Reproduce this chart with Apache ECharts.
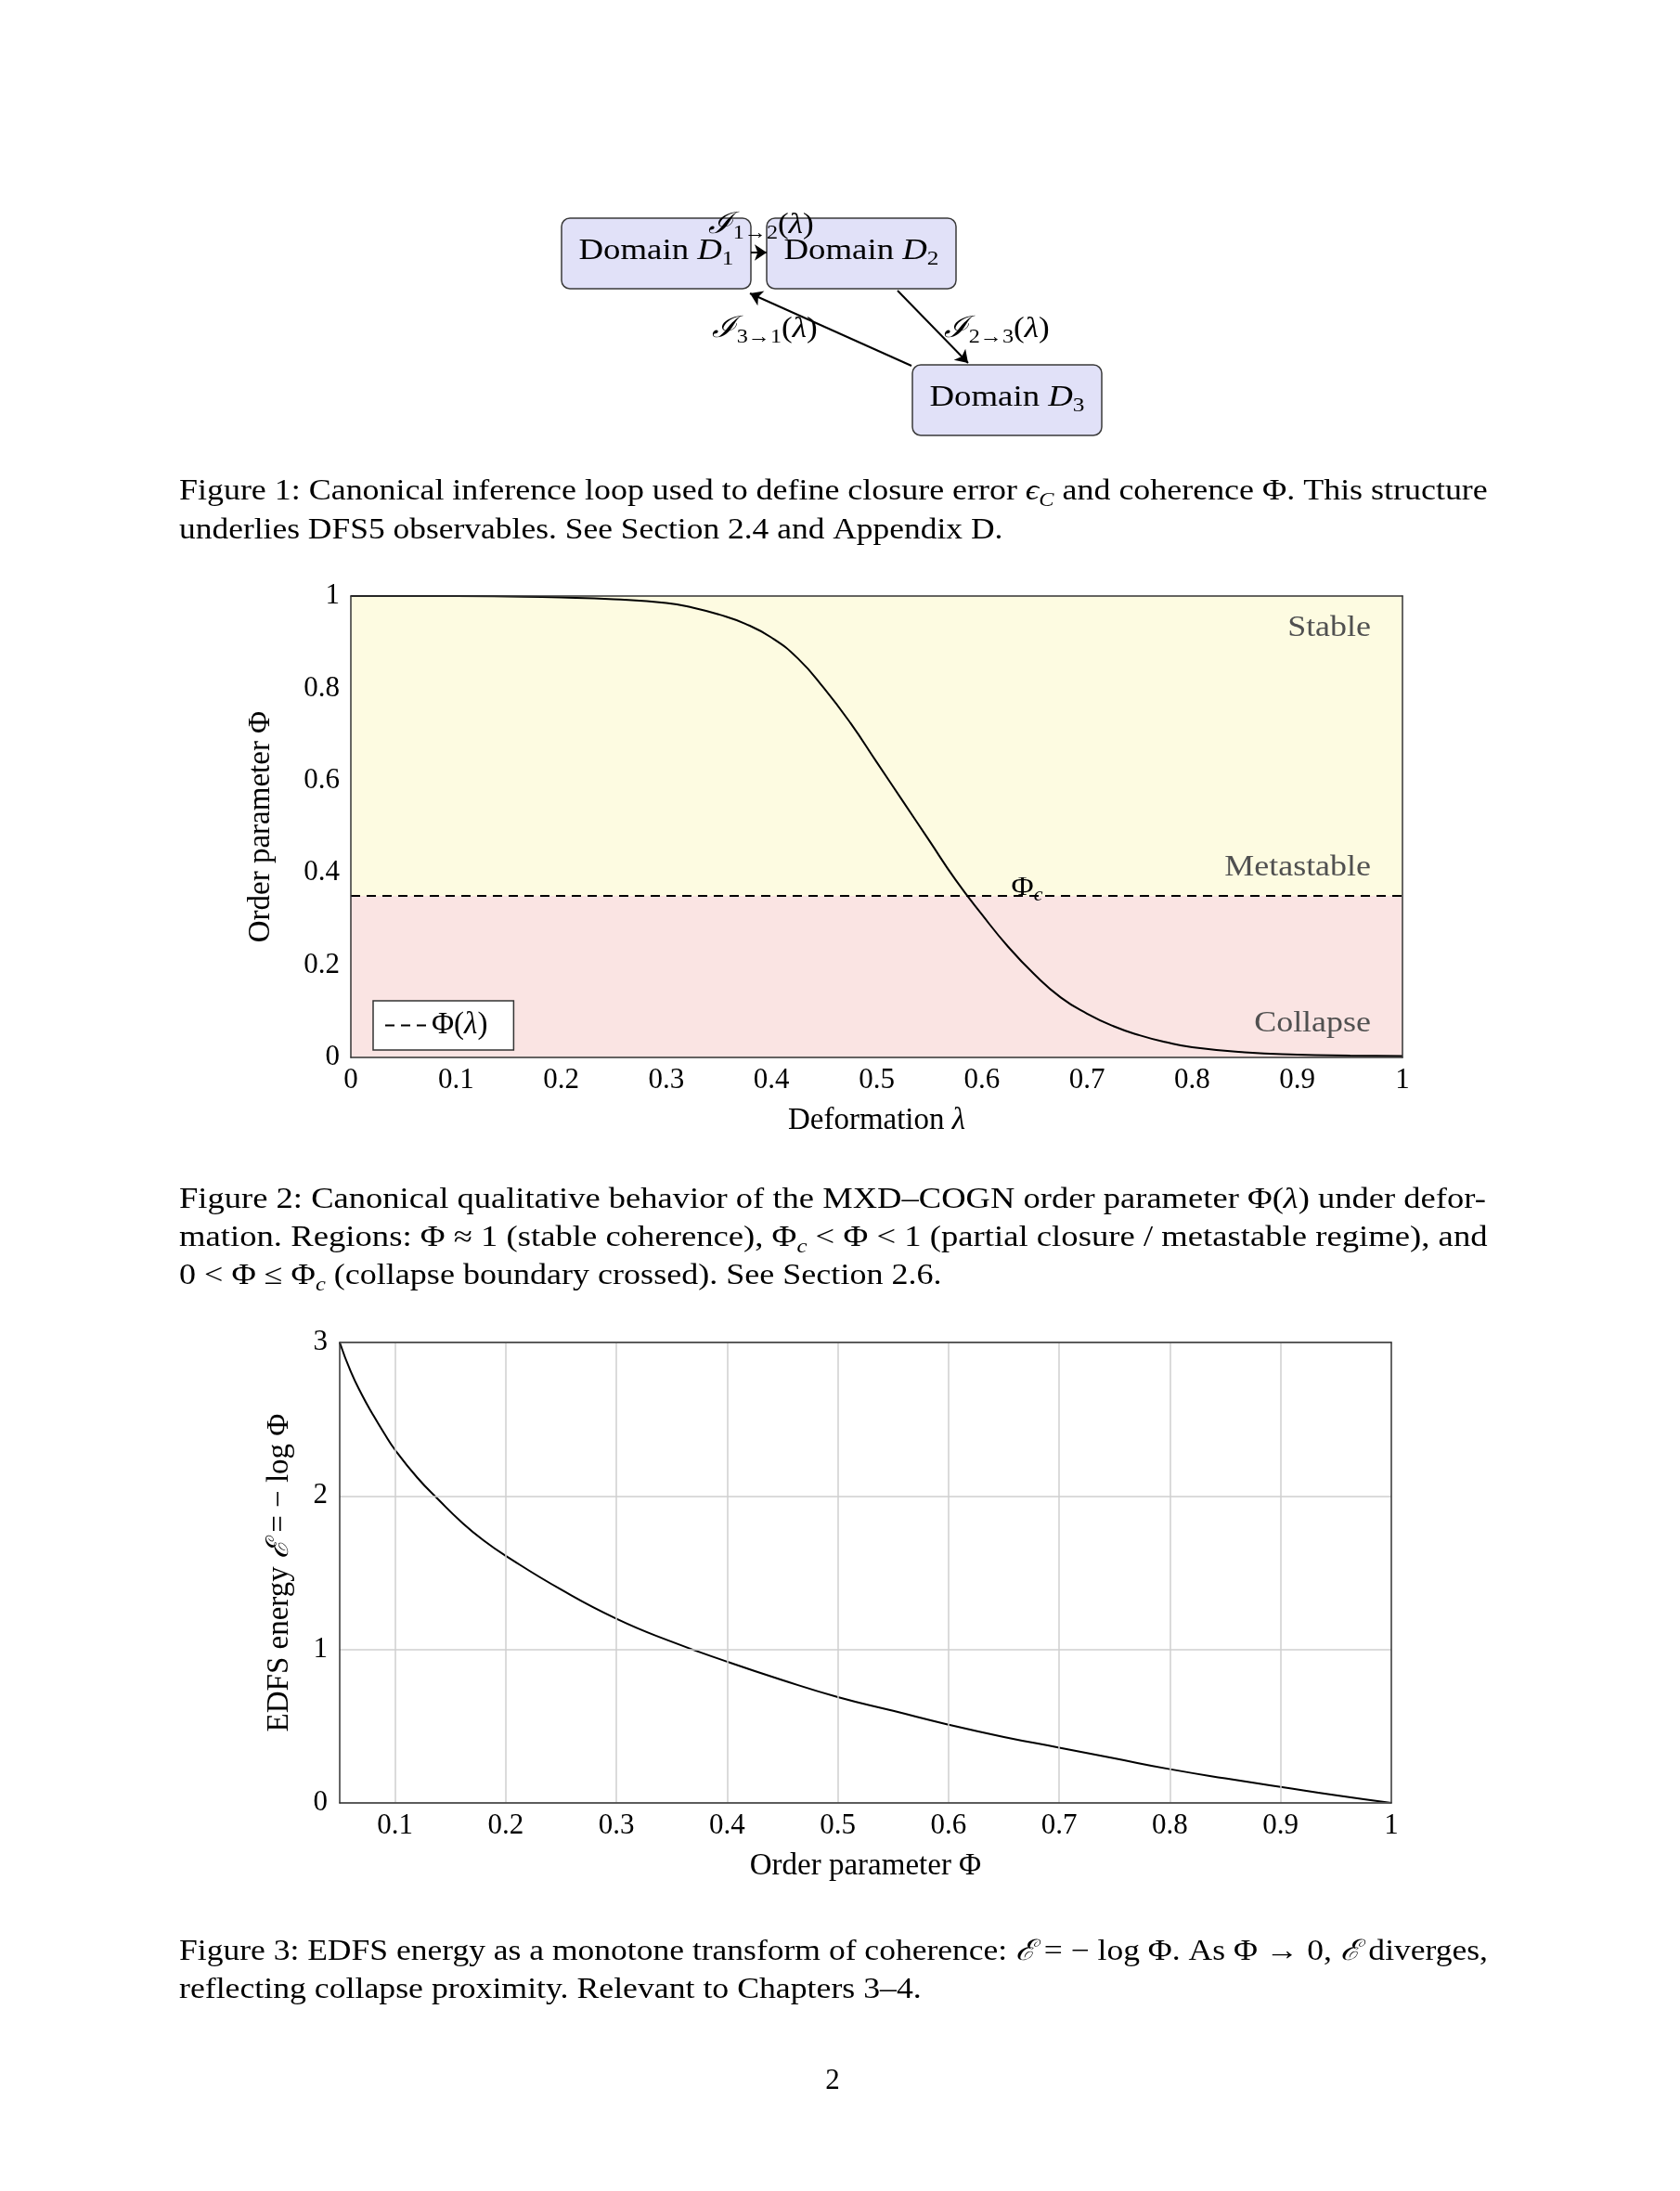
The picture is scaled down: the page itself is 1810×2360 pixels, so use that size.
<!DOCTYPE html>
<html>
<head>
<meta charset="utf-8">
<script src="https://cdn.jsdelivr.net/npm/echarts@6/dist/echarts.min.js"></script>
<style>
  html, body { margin: 0; padding: 0; background: #fff; }
  #chart { width: 1810px; height: 2360px; }
</style>
</head>
<body>
<div id="chart"></div>
<script>
// ---------------- DATA ----------------
// Figure 2: order parameter vs deformation
const lambdaVals = [0, 0.05, 0.1, 0.15, 0.2, 0.25, 0.3, 0.325, 0.35, 0.375, 0.4, 0.425, 0.45, 0.475, 0.5, 0.525, 0.55, 0.575, 0.6, 0.625, 0.65, 0.675, 0.7, 0.725, 0.75, 0.775, 0.8, 0.85, 0.9, 0.95, 1.0];
const phiVals    = [1.0, 1.0, 1.0, 0.999, 0.997, 0.993, 0.985, 0.975, 0.96, 0.94, 0.91, 0.865, 0.80, 0.725, 0.64, 0.555, 0.47, 0.385, 0.31, 0.24, 0.18, 0.13, 0.095, 0.068, 0.048, 0.033, 0.022, 0.011, 0.006, 0.004, 0.003];
const phiC = 0.35;
const regionNames  = ['Stable', 'Metastable', 'Collapse'];
const regionLambda = [0.97, 0.97, 0.97];
const regionPhi    = [0.93, 0.41, 0.073];
const phiCLabelAt  = [0.643, 0.368];

// Figure 3: EDFS energy vs order parameter
const coherenceVals = [0.05, 0.06, 0.07, 0.08, 0.09, 0.1, 0.12, 0.14, 0.16, 0.18, 0.2, 0.25, 0.3, 0.35, 0.4, 0.45, 0.5, 0.55, 0.6, 0.65, 0.7, 0.75, 0.8, 0.85, 0.9, 0.95, 1.0];
const energyVals    = [3.0, 2.81, 2.66, 2.53, 2.41, 2.30, 2.12, 1.97, 1.83, 1.71, 1.61, 1.39, 1.20, 1.05, 0.92, 0.80, 0.69, 0.60, 0.51, 0.43, 0.36, 0.29, 0.22, 0.16, 0.105, 0.05, 0.0];
const coherenceTicks = [0.1, 0.2, 0.3, 0.4, 0.5, 0.6, 0.7, 0.8, 0.9, 1];
const coherenceGrid  = [0.1, 0.2, 0.3, 0.4, 0.5, 0.6, 0.7, 0.8, 0.9];

// Figure 1: inference loop diagram
const domainSubs = ['1', '2', '3'];
const domainX = [707, 928, 1085];
const domainY = [273, 273, 431];
const arrowFrom = [[809, 272], [967, 313], [982, 394]];
const arrowTo   = [[826, 272], [1043, 391], [808, 316]];
const edgeSubs   = ['1→2', '2→3', '3→1'];
const edgeLabelX = [820, 1074, 824];
const edgeLabelY = [243, 355, 355];

// ---------------- STYLE ----------------
const SERIF = '"Liberation Serif", "DejaVu Serif", serif';
const FS = 31;
const SX = 1.15;   // horizontal stretch to approximate Computer Modern widths

function richFor(size, color) {
  color = color || '#000';
  return {
    i:    { fontStyle: 'italic', fontFamily: SERIF, fontSize: size, color: color },
    sub:  { fontFamily: SERIF, fontSize: Math.round(size * 0.68), verticalAlign: 'bottom', lineHeight: Math.round(size * 0.75), color: color },
    isub: { fontFamily: SERIF, fontStyle: 'italic', fontSize: Math.round(size * 0.68), verticalAlign: 'bottom', lineHeight: Math.round(size * 0.75), color: color }
  };
}

const frameLine = { show: true, onZero: false, lineStyle: { color: '#333', width: 1.5 } };
const tickLabel = (margin) => ({ fontSize: FS, color: '#000', fontFamily: SERIF, margin: margin });
const NAME_FS = 33;

const chart = echarts.init(document.getElementById('chart'), null, { renderer: 'canvas' });

const CAP = 31;
function caption(text, x, y, sx) {
  return {
    type: 'text', x: x, y: y, z: 100, scaleX: sx,
    style: {
      text: text, x: 0, y: 0, fill: '#000', fontFamily: SERIF, fontSize: CAP,
      lineHeight: 40, verticalAlign: 'middle', align: 'left', rich: richFor(CAP)
    }
  };
}

// custom text annotations placed through the axes
function textSeries(xIdx, yIdx, xs, ys, texts, opts) {
  return {
    type: 'custom', xAxisIndex: xIdx, yAxisIndex: yIdx, z: opts.z || 8, silent: true,
    data: xs.map((x, i) => [x, ys[i]]),
    encode: { x: 0, y: 1 },
    renderItem: function (params, api) {
      const c = api.coord([api.value(0), api.value(1)]);
      return {
        type: 'text', x: c[0], y: c[1], scaleX: opts.sx || SX,
        style: {
          text: texts[params.dataIndex], x: 0, y: 0,
          fill: opts.color || '#000', fontFamily: SERIF, fontSize: opts.size || FS,
          lineHeight: opts.lineHeight || 38, align: opts.align || 'center', verticalAlign: 'middle',
          rich: richFor(opts.size || FS, opts.color || '#000')
        }
      };
    }
  };
}

const option = {
  backgroundColor: '#fff',
  animation: false,
  textStyle: { fontFamily: SERIF },
  grid: [
    { left: 378, top: 642, width: 1133, height: 497 },
    { left: 366, top: 1446, width: 1133, height: 496 },
    { left: 0, top: 0, width: 1810, height: 2360 }
  ],
  legend: {
    data: ['Φ(λ)'],
    left: 402, top: 1078,
    orient: 'vertical',
    itemWidth: 45, itemHeight: 20,
    padding: [10, 28, 10, 12],
    borderColor: '#333', borderWidth: 1.5, borderRadius: 0,
    backgroundColor: '#fff',
    itemStyle: { opacity: 0 },
    lineStyle: { type: 'inherit', color: '#000', width: 2 },
    formatter: () => 'Φ({i|λ})',
    textStyle: { fontSize: 33, fontFamily: SERIF, color: '#000', rich: richFor(33) },
    z: 20
  },
  xAxis: [
    { gridIndex: 0, type: 'value', min: 0, max: 1, interval: 0.1, z: 10,
      axisLine: frameLine, axisTick: { show: false }, splitLine: { show: false },
      axisLabel: tickLabel(9),
      name: 'Deformation {i|λ}', nameLocation: 'middle', nameGap: 52,
      nameTextStyle: { fontSize: NAME_FS, fontFamily: SERIF, color: '#000', rich: richFor(NAME_FS) } },
    { gridIndex: 0, type: 'value', position: 'top', min: 0, max: 1, z: 10,
      axisLine: frameLine, axisTick: { show: false }, splitLine: { show: false }, axisLabel: { show: false } },
    { gridIndex: 1, type: 'value', min: 0.05, max: 1, z: 10,
      axisLine: frameLine, axisTick: { show: false }, splitLine: { show: false },
      axisLabel: Object.assign(tickLabel(9), { customValues: coherenceTicks }),
      name: 'Order parameter Φ', nameLocation: 'middle', nameGap: 52,
      nameTextStyle: { fontSize: NAME_FS, fontFamily: SERIF, color: '#000' } },
    { gridIndex: 1, type: 'value', position: 'top', min: 0.05, max: 1, z: 10,
      axisLine: frameLine, axisTick: { show: false }, splitLine: { show: false }, axisLabel: { show: false } },
    { gridIndex: 2, type: 'value', min: 0, max: 1810, show: false }
  ],
  yAxis: [
    { gridIndex: 0, type: 'value', min: 0, max: 1, interval: 0.2, z: 10,
      axisLine: frameLine, axisTick: { show: false }, splitLine: { show: false },
      axisLabel: tickLabel(12),
      name: 'Order parameter Φ', nameLocation: 'middle', nameGap: 80,
      nameTextStyle: { fontSize: NAME_FS, fontFamily: SERIF, color: '#000' } },
    { gridIndex: 0, type: 'value', position: 'right', min: 0, max: 1, z: 10,
      axisLine: frameLine, axisTick: { show: false }, splitLine: { show: false }, axisLabel: { show: false } },
    { gridIndex: 1, type: 'value', min: 0, max: 3, interval: 1, z: 10,
      axisLine: frameLine, axisTick: { show: false },
      splitLine: { show: true, lineStyle: { color: '#cfcfcf', width: 1.5 } },
      axisLabel: tickLabel(13),
      name: 'EDFS energy {i|ℰ} = − log Φ', nameLocation: 'middle', nameGap: 48,
      nameTextStyle: { fontSize: NAME_FS, fontFamily: SERIF, color: '#000', rich: richFor(NAME_FS) } },
    { gridIndex: 1, type: 'value', position: 'right', min: 0, max: 3, z: 10,
      axisLine: frameLine, axisTick: { show: false }, splitLine: { show: false }, axisLabel: { show: false } },
    { gridIndex: 2, type: 'value', min: 0, max: 2360, inverse: true, show: false }
  ],
  series: [
    // Figure 2 curve with region shading
    {
      type: 'line', xAxisIndex: 0, yAxisIndex: 0, z: 3, color: '#000',
      data: lambdaVals.map((l, i) => [l, phiVals[i]]),
      showSymbol: false, symbol: 'none', smooth: 0.5,
      lineStyle: { color: '#000', width: 2 },
      markArea: {
        silent: true,
        data: [
          [{ yAxis: phiC, itemStyle: { color: '#fdfbe1' } }, { yAxis: 1 }],
          [{ yAxis: 0, itemStyle: { color: '#fae4e3' } }, { yAxis: phiC }]
        ]
      }
    },
    // threshold (legend entry)
    {
      name: 'Φ(λ)', type: 'line', xAxisIndex: 0, yAxisIndex: 0, z: 4, color: '#000',
      data: [[0, phiC], [1, phiC]],
      symbol: 'none', showSymbol: false,
      itemStyle: { color: '#000' },
      lineStyle: { color: '#000', width: 2, type: [10, 7] }
    },
    // region labels
    textSeries(0, 0, regionLambda, regionPhi, regionNames, { align: 'right', color: '#505050', size: 31, sx: 1.16, z: 6 }),
    // Phi_c label
    textSeries(0, 0, [phiCLabelAt[0]], [phiCLabelAt[1]], ['Φ{isub|c}'], { size: 30, sx: 1.1, z: 6 }),
    // Figure 3 energy curve
    {
      type: 'line', xAxisIndex: 2, yAxisIndex: 2, z: 3, color: '#000',
      data: coherenceVals.map((c, i) => [c, energyVals[i]]),
      showSymbol: false, symbol: 'none', smooth: 0.5,
      lineStyle: { color: '#000', width: 2 },
      markLine: {
        silent: true, symbol: 'none', label: { show: false },
        lineStyle: { color: '#cfcfcf', width: 1.5, type: 'solid' },
        data: coherenceGrid.map(v => ({ xAxis: v }))
      }
    },
    // Figure 1 diagram boxes
    {
      type: 'custom', xAxisIndex: 4, yAxisIndex: 4, z: 6, silent: true,
      data: domainX.map((x, i) => [x, domainY[i]]),
      encode: { x: 0, y: 1 },
      renderItem: function (params, api) {
        const c = api.coord([api.value(0), api.value(1)]);
        const w = 204, h = 76;
        return {
          type: 'group',
          children: [
            { type: 'rect', shape: { x: c[0] - w / 2, y: c[1] - h / 2, width: w, height: h, r: 9 },
              style: { fill: '#e1e1f8', stroke: '#3a3a3a', lineWidth: 1.5 } },
            { type: 'text', x: c[0], y: c[1] - 2, scaleX: SX,
              style: { text: 'Domain {i|D}{sub|' + domainSubs[params.dataIndex] + '}', x: 0, y: 0,
                       fill: '#000', fontFamily: SERIF, fontSize: 32, lineHeight: 38,
                       align: 'center', verticalAlign: 'middle', rich: richFor(32) } }
          ]
        };
      }
    },
    // Figure 1 arrows
    {
      type: 'lines', coordinateSystem: 'cartesian2d', xAxisIndex: 4, yAxisIndex: 4, z: 7, silent: true,
      symbol: ['none', 'arrow'], symbolSize: 13,
      lineStyle: { color: '#000', width: 2, opacity: 1, curveness: 0 },
      data: arrowFrom.map((f, i) => ({ coords: [f, arrowTo[i]] }))
    },
    // Figure 1 edge labels
    textSeries(4, 4, edgeLabelX, edgeLabelY, edgeSubs.map(s => '{i|ℐ}{sub|' + s + '}({i|λ})'), { size: 32, sx: 1.1, z: 8 })
  ],
  graphic: [
    caption('Figure 1: Canonical inference loop used to define closure error {i|ϵ}{isub|C} and coherence Φ. This structure', 193, 530, 1.159),
    caption('underlies DFS5 observables. See Section 2.4 and Appendix D.', 193, 572, 1.144),
    caption('Figure 2: Canonical qualitative behavior of the MXD–COGN order parameter Φ({i|λ}) under defor-', 193, 1293, 1.179),
    caption('mation. Regions: Φ ≈ 1 (stable coherence), Φ{isub|c} < Φ < 1 (partial closure / metastable regime), and', 193, 1334, 1.183),
    caption('0 < Φ ≤ Φ{isub|c} (collapse boundary crossed). See Section 2.6.', 193, 1375, 1.163),
    caption('Figure 3: EDFS energy as a monotone transform of coherence: {i|ℰ} = − log Φ. As Φ → 0, {i|ℰ} diverges,', 193, 2103, 1.146),
    caption('reflecting collapse proximity. Relevant to Chapters 3–4.', 193, 2144, 1.153),
    { type: 'text', x: 897, y: 2242, z: 100,
      style: { text: '2', fill: '#000', fontFamily: SERIF, fontSize: CAP, align: 'center', verticalAlign: 'middle' } }
  ]
};

chart.setOption(option);
</script>
</body>
</html>
